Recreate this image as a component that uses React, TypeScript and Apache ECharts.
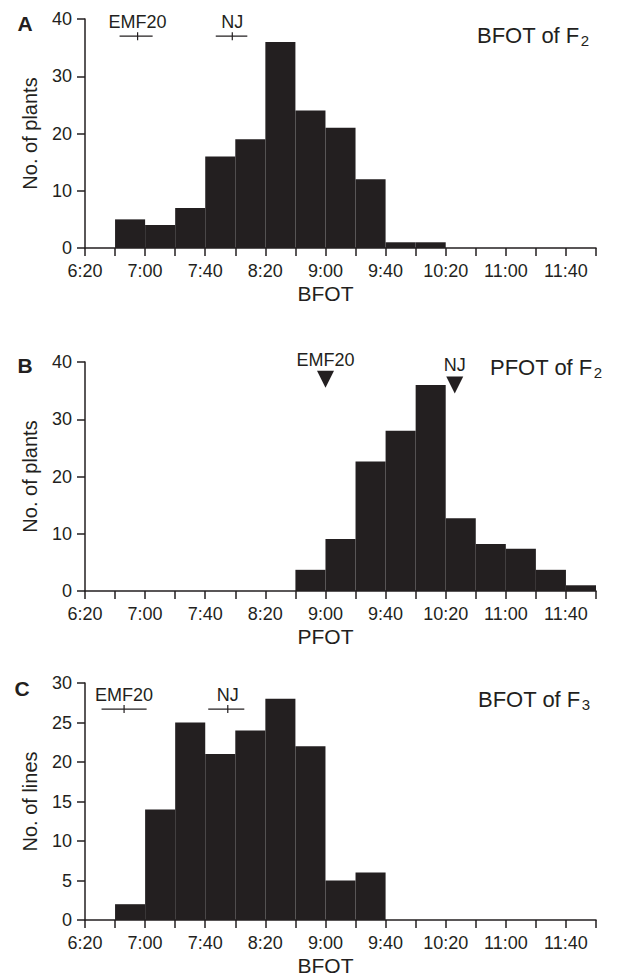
import React, { useEffect, useRef } from 'react';
import * as echarts from 'echarts';

const FONT = '"Liberation Sans", Arial, Helvetica, sans-serif';
const INK = '#231f20';
const BIN = 20; // minutes per histogram bin

// Panel A: BFOT of F2 (No. of plants)
const bfotF2BinStarts = ['6:40', '7:00', '7:20', '7:40', '8:00', '8:20', '8:40', '9:00', '9:20', '9:40', '10:00'];
const bfotF2Counts = [5, 4, 7, 16, 19, 36, 24, 21, 12, 1, 1];

// Panel B: PFOT of F2 (No. of plants)
const pfotF2BinStarts = ['8:40', '9:00', '9:20', '9:40', '10:00', '10:20', '10:40', '11:00', '11:20', '11:40'];
const pfotF2Counts = [3.7, 9.1, 22.6, 28, 36, 12.7, 8.2, 7.4, 3.7, 1];

// Panel C: BFOT of F3 (No. of lines)
const bfotF3BinStarts = ['6:40', '7:00', '7:20', '7:40', '8:00', '8:20', '8:40', '9:00', '9:20'];
const bfotF3Counts = [2, 14, 25, 21, 24, 28, 22, 5, 6];

// Parents
const parentNames = ['EMF20', 'NJ'];
const bfotF2ParentMean = ['6:55', '7:58'];
const bfotF2ParentLow = ['6:43', '7:47'];
const bfotF2ParentHigh = ['7:05', '8:08'];
const bfotF2ParentLevel = [37, 37];

const pfotF2ParentMean = ['9:00', '10:26'];
const pfotF2ParentLevel = [37, 36];

const bfotF3ParentMean = ['6:46', '7:55'];
const bfotF3ParentLow = ['6:31', '7:42'];
const bfotF3ParentHigh = ['7:01', '8:06'];
const bfotF3ParentLevel = [26.7, 26.7];

// Axes
const xMin = '6:20';
const xMax = '12:00';
const xTickStep = 20;
const xLabelStep = 40;
const yMaxPlants = 40;
const yStepPlants = 10;
const yMaxLines = 30;
const yStepLines = 5;

const toMin = (s: string) => {
  const [h, m] = s.split(':').map(Number);
  return h * 60 + m;
};
const fmt = (v: number) => `${Math.floor(v / 60)}:${String(v % 60).padStart(2, '0')}`;

const X0 = toMin(xMin);
const X1 = toMin(xMax);

const grids = [
  { left: 85, top: 19, width: 511, height: 229 },
  { left: 85, top: 362, width: 511, height: 229 },
  { left: 85, top: 683, width: 511, height: 238 },
];

const histSeries = (idx: number, starts: string[], counts: number[]) => ({
  type: 'custom',
  xAxisIndex: idx,
  yAxisIndex: idx,
  silent: true,
  data: starts.map((s, i) => [toMin(s), toMin(s) + BIN, counts[i]]),
  encode: { x: [0, 1], y: 2 },
  renderItem: (_p: any, api: any) => {
    const p0 = api.coord([api.value(0), api.value(2)]);
    const p1 = api.coord([api.value(1), 0]);
    return {
      type: 'rect',
      shape: { x: p0[0], y: p0[1], width: p1[0] - p0[0], height: p1[1] - p0[1] },
      style: { fill: INK },
    };
  },
  z: 1,
});

const rangeSeries = (idx: number, mean: string[], low: string[], high: string[], level: number[]) => ({
  type: 'custom',
  xAxisIndex: idx,
  yAxisIndex: idx,
  silent: true,
  data: mean.map((m, i) => [toMin(m), toMin(low[i]), toMin(high[i]), level[i]]),
  encode: { x: [0, 1, 2], y: 3 },
  renderItem: (params: any, api: any) => {
    const y = api.value(3);
    const a = api.coord([api.value(1), y]);
    const b = api.coord([api.value(2), y]);
    const c = api.coord([api.value(0), y]);
    return {
      type: 'group',
      children: [
        { type: 'line', shape: { x1: a[0], y1: a[1], x2: b[0], y2: b[1] }, style: { stroke: INK, lineWidth: 1.2 } },
        { type: 'line', shape: { x1: c[0], y1: c[1] - 4, x2: c[0], y2: c[1] + 4 }, style: { stroke: INK, lineWidth: 1.2 } },
        {
          type: 'text',
          x: c[0],
          y: c[1] - 14,
          style: {
            text: parentNames[params.dataIndex],
            fill: INK,
            fontSize: 18,
            fontFamily: FONT,
            align: 'center',
            verticalAlign: 'middle',
          },
        },
      ],
    };
  },
  z: 3,
});

const xAxis = (idx: number, name: string) => ({
  type: 'value',
  gridIndex: idx,
  min: X0,
  max: X1,
  interval: xTickStep,
  axisLine: { show: true, onZero: false, lineStyle: { color: INK, width: 1.5 } },
  axisTick: { show: true, length: 8, lineStyle: { color: INK, width: 1.5 } },
  axisLabel: {
    color: INK,
    fontSize: 18,
    fontFamily: FONT,
    margin: 14,
    formatter: (v: number) => ((v - X0) % xLabelStep === 0 && v < X1 ? fmt(v) : ''),
  },
  splitLine: { show: false },
  name,
  nameLocation: 'middle',
  nameGap: 35,
  nameTextStyle: { color: INK, fontSize: 21, fontFamily: FONT, padding: [0, 30, 0, 0] },
});

const yAxis = (idx: number, max: number, step: number, name: string) => ({
  type: 'value',
  gridIndex: idx,
  min: 0,
  max,
  interval: step,
  axisLine: { show: true, lineStyle: { color: INK, width: 1.5 } },
  axisTick: { show: true, length: 8, lineStyle: { color: INK, width: 1.5 } },
  axisLabel: { color: INK, fontSize: 18, fontFamily: FONT, margin: 13 },
  splitLine: { show: false },
  name,
  nameLocation: 'middle',
  nameGap: 45,
  nameTextStyle: { color: INK, fontSize: 20, fontFamily: FONT },
});

const titleText = (x: number, y: number, main: string, sub: string) => ({
  type: 'text',
  x,
  y,
  style: {
    text: `{m|${main}}{s|${sub}}`,
    align: 'left',
    verticalAlign: 'middle',
    fill: INK,
    rich: {
      m: { fontSize: 22, lineHeight: 26, fontFamily: FONT, fill: INK, color: INK },
      s: { fontSize: 15, lineHeight: 15, padding: [11, 0, 0, 1], fontFamily: FONT, fill: INK, color: INK },
    },
  },
});

const letter = (x: number, y: number, t: string) => ({
  type: 'text',
  x,
  y,
  style: {
    text: t,
    fill: INK,
    fontSize: 21,
    fontWeight: 'bold',
    fontFamily: FONT,
    align: 'center',
    verticalAlign: 'middle',
  },
});

export default function App() {
  const ref = useRef<HTMLDivElement>(null);
  useEffect(() => {
    document.body.style.margin = '0';
    if (!ref.current) return;
    const chart = echarts.init(ref.current, null, { renderer: 'svg' });
    chart.setOption({
      animation: false,
      backgroundColor: '#ffffff',
      textStyle: { fontFamily: FONT, color: INK },
      grid: grids.map((g) => ({ ...g, containLabel: false })),
      xAxis: [xAxis(0, 'BFOT'), xAxis(1, 'PFOT'), xAxis(2, 'BFOT')],
      yAxis: [
        yAxis(0, yMaxPlants, yStepPlants, 'No. of plants'),
        yAxis(1, yMaxPlants, yStepPlants, 'No. of plants'),
        yAxis(2, yMaxLines, yStepLines, 'No. of lines'),
      ],
      series: [
        histSeries(0, bfotF2BinStarts, bfotF2Counts),
        histSeries(1, pfotF2BinStarts, pfotF2Counts),
        histSeries(2, bfotF3BinStarts, bfotF3Counts),
        rangeSeries(0, bfotF2ParentMean, bfotF2ParentLow, bfotF2ParentHigh, bfotF2ParentLevel),
        rangeSeries(2, bfotF3ParentMean, bfotF3ParentLow, bfotF3ParentHigh, bfotF3ParentLevel),
        {
          type: 'scatter',
          xAxisIndex: 1,
          yAxisIndex: 1,
          silent: true,
          symbol: 'triangle',
          symbolRotate: 180,
          symbolSize: [17, 17],
          itemStyle: { color: INK, opacity: 1 },
          data: pfotF2ParentMean.map((m, i) => ({ name: parentNames[i], value: [toMin(m), pfotF2ParentLevel[i]] })),
          label: { show: true, position: 'top', distance: 2, formatter: '{b}', color: INK, fontSize: 18, fontFamily: FONT, opacity: 1 },
          z: 3,
        },
      ],
      graphic: [
        letter(25, 23, 'A'),
        letter(25, 365, 'B'),
        letter(22, 688, 'C'),
        titleText(477, 35, 'BFOT of F', '2'),
        titleText(490, 367, 'PFOT of F', '2'),
        titleText(478, 699, 'BFOT of F', '3'),
      ],
    });
    return () => chart.dispose();
  }, []);
  return <div ref={ref} style={{ width: 627, height: 977 }} />;
}
